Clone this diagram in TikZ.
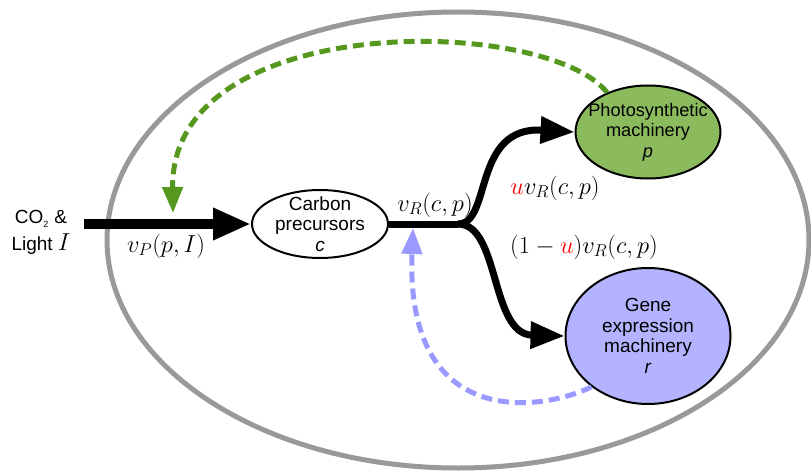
\RequirePackage{fix-cm}
\documentclass[tikz,border=0pt]{standalone}
\usepackage{fontspec}
\setmainfont{Liberation Sans}
\usetikzlibrary{arrows.meta,shapes.geometric}
\definecolor{gfill}{HTML}{8CBB5E}
\definecolor{gdash}{HTML}{56981E}
\definecolor{bfill}{HTML}{B3B3FF}
\definecolor{bdash}{HTML}{9999FF}
\definecolor{cellgray}{HTML}{999999}
\begin{document}
\begin{tikzpicture}[x=1pt,y=-1pt,
  txt/.style={font=\fontsize{19}{20.5}\selectfont, align=center},
  lbl/.style={font=\fontsize{24.5}{26}\selectfont, inner sep=0pt},
  blob/.style={ellipse, draw=black, line width=2pt, inner sep=0pt},
  flow/.style={line width=7pt, -{Triangle[length=34pt,width=26pt]}},
  fb/.style={line width=5pt, dash pattern=on 11pt off 6pt, -{Triangle[length=26pt,width=20pt]}}]
\useasboundingbox (0,0) rectangle (811,476);
% cell
\node[ellipse, draw=cellgray, line width=5pt, minimum width=702pt, minimum height=456pt] (cell) at (458,240) {};
% nodes
\node[blob, fill=white, minimum width=136pt, minimum height=68pt, inner ysep=-10pt, txt] (c) at (320,224) {Carbon\\precursors\\\textit{c}};
\node[blob, fill=gfill, minimum width=145pt, minimum height=93pt, inner xsep=-16pt, txt, font=\fontsize{18.2}{20.5}\selectfont] (p) at (648,132) {Photosynthetic\\machinery\\\textit{p}};
\node[blob, fill=bfill, minimum width=165pt, minimum height=136pt, txt] (r) at (648,336) {Gene\\expression\\machinery\\\textit{r}};
\node[font=\fontsize{19}{27}\selectfont, align=center, inner sep=0pt] (in) at (41,232) {CO\raisebox{-4pt}{\fontsize{9}{9}\selectfont 2}\hspace{6pt}\&\\Light {\fontsize{24.5}{26}\selectfont$I$}};
\coordinate (src) at (84,224);
\coordinate (split) at (458,224);
\coordinate (gtip) at (173,213);
\coordinate (btip) at (413,228);
% flows
\draw[line width=10pt, -{Triangle[length=38pt,width=30pt]}] (src) -- (c.west);
\draw[line width=7pt] (c.east) -- (split);
\draw[flow] (split) .. controls (492,224) and (472,126) .. (p.west);
\draw[flow] (split) .. controls (500,224) and (490,334) .. (r.west);
% feedback
\draw[fb, color=gdash] (p.136) .. controls (545,15) and (170,10) .. (gtip);
\draw[fb, color=bdash] (r.222) .. controls (540,412) and (405,430) .. (btip);
% labels
\node[lbl] (lp) at (166,246) {$v_P(p,I)$};
\node[lbl] (lr) at (435,205) {$v_R(c,p)$};
\node[lbl] (lu) at (555,188) {$\textcolor{red}{u}v_R(c,p)$};
\node[lbl] (lv) at (584,247) {$(1-\textcolor{red}{u})v_R(c,p)$};
\end{tikzpicture}
\end{document}
